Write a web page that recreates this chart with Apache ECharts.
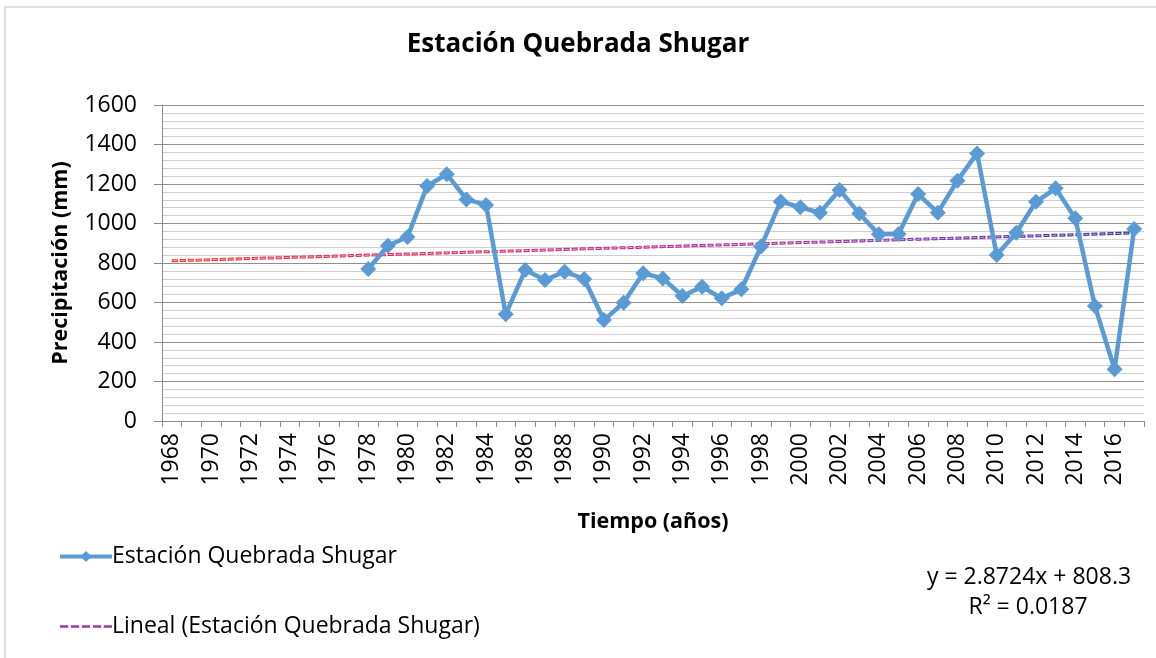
<!DOCTYPE html>
<html lang="es">
<head>
    <meta charset="UTF-8">
    <title>Estación Quebrada Shugar</title>
    <style>
        html, body { margin: 0; padding: 0; background: #fff; }
    </style>
</head>
<body>
<div id="main" style="width: 1156px;height: 658px"></div>
<script src="https://cdn.jsdelivr.net/npm/echarts@6/dist/echarts.min.js"></script>
<script>
    // años 1968 - 2017
    var years = [];
    for (var y = 1968; y <= 2017; y++) {
        years.push(String(y));
    }

    // precipitación anual (mm), sin datos antes de 1978
    var precip = [
        null, null, null, null, null, null, null, null, null, null,
        770, 887, 932, 1190, 1250, 1122, 1094, 540, 765, 714,
        756, 719, 511, 599, 748, 722, 633, 680, 621, 667,
        883, 1112, 1082, 1055, 1170, 1051, 945, 947, 1149, 1055,
        1217, 1355, 840, 953, 1110, 1178, 1026, 582, 262, 972
    ];

    // tendencia lineal: extremos
    var trendStart = 811;
    var trendEnd = 952;
    var trend = years.map(function (v, i) {
        if (i === 0) return trendStart;
        if (i === years.length - 1) return trendEnd;
        return null;
    });

    var font = "'Open Sans', 'Noto Sans', sans-serif";
    var trendColor = new echarts.graphic.LinearGradient(0, 0, 1, 0, [
        {offset: 0, color: '#ff2a2a'},
        {offset: 0.45, color: '#c4238a'},
        {offset: 0.75, color: '#8a2fa8'},
        {offset: 1, color: '#2c2a96'}
    ]);
    // icono de leyenda: línea discontinua
    var dashIcon = 'path://M0,0h6v2h-6z M8,0h6v2h-6z M16,0h6v2h-6z M24,0h6v2h-6z M32,0h6v2h-6z';

    var myChart = echarts.init(document.getElementById('main'));
    var option = {
        animation: false,
        textStyle: {fontFamily: font},
        title: {
            text: 'Estación Quebrada Shugar',
            left: 'center',
            top: 27,
            textStyle: {fontFamily: font, fontSize: 26, fontWeight: 'bold', color: '#000'}
        },
        legend: {
            orient: 'vertical',
            left: 53,
            top: 540,
            itemGap: 47,
            itemWidth: 52,
            itemHeight: 14,
            data: [
                {name: 'Estación Quebrada Shugar', lineStyle: {width: 4}},
                {name: 'Lineal (Estación Quebrada Shugar)', icon: dashIcon, itemStyle: {color: '#9a3aa6'}}
            ],
            textStyle: {fontFamily: font, fontSize: 23, color: '#000', padding: [0, 0, 0, -5]}
        },
        grid: {
            left: 162,
            right: 12,
            top: 105,
            bottom: 237
        },
        xAxis: {
            type: 'category',
            data: years,
            name: 'Tiempo (años)',
            nameLocation: 'middle',
            nameGap: 90,
            nameTextStyle: {fontFamily: font, fontSize: 21.5, fontWeight: 'bold', color: '#000'},
            axisLine: {lineStyle: {color: '#8c8c8c', width: 1}},
            axisTick: {show: true, interval: 0, length: 6, lineStyle: {color: '#8c8c8c'}},
            axisLabel: {
                interval: 1,
                rotate: 90,
                margin: 12,
                fontFamily: font,
                fontSize: 23,
                color: '#000'
            },
            splitLine: {show: false}
        },
        yAxis: {
            type: 'value',
            min: 0,
            max: 1600,
            interval: 200,
            name: 'Precipitación (mm)',
            nameLocation: 'middle',
            nameGap: 90,
            nameTextStyle: {fontFamily: font, fontSize: 21.5, fontWeight: 'bold', color: '#000'},
            axisLine: {show: true, lineStyle: {color: '#8c8c8c', width: 1}},
            axisTick: {show: true, length: 8, lineStyle: {color: '#8c8c8c'}},
            axisLabel: {
                margin: 25,
                fontFamily: font,
                fontSize: 23,
                color: '#000',
                formatter: function (v) { return String(v); }
            },
            splitLine: {show: true, lineStyle: {color: '#8f8f8f', width: 1}},
            minorTick: {show: false, splitNumber: 5},
            minorSplitLine: {show: true, lineStyle: {color: '#cfcfcf', width: 1}}
        },
        series: [
            {
                name: 'Lineal (Estación Quebrada Shugar)',
                type: 'line',
                data: trend,
                connectNulls: true,
                symbol: 'none',
                z: 2,
                lineStyle: {color: trendColor, width: 3, type: [6, 2]},
                itemStyle: {color: '#9a3aa6'}
            },
            {
                // centro claro de los trazos de la tendencia
                name: 'trendInner',
                type: 'line',
                data: trend,
                connectNulls: true,
                symbol: 'none',
                z: 3,
                silent: true,
                lineStyle: {color: 'rgba(255,255,255,0.65)', width: 1, type: [4, 4], dashOffset: -1}
            },
            {
                name: 'Estación Quebrada Shugar',
                type: 'line',
                data: precip,
                symbol: 'diamond',
                symbolSize: 16,
                showAllSymbol: true,
                z: 5,
                lineStyle: {color: '#5b9bd5', width: 4.5},
                itemStyle: {color: '#5b9bd5'}
            }
        ],
        graphic: [
            {
                type: 'rect',
                shape: {x: 5, y: 7, width: 1200, height: 700},
                style: {fill: 'none', stroke: '#bdbdbd', lineWidth: 1},
                silent: true,
                z: -1
            },
            {
                type: 'text',
                x: 1029,
                y: 577,
                style: {
                    text: 'y = 2.8724x + 808.3',
                    fontFamily: font, fontSize: 23, fill: '#000',
                    textAlign: 'center', textVerticalAlign: 'middle'
                }
            },
            {
                type: 'text',
                x: 1028,
                y: 607,
                style: {
                    text: 'R² = 0.0187',
                    fontFamily: font, fontSize: 23, fill: '#000',
                    textAlign: 'center', textVerticalAlign: 'middle'
                }
            }
        ]
    };
    myChart.setOption(option);
</script>
</body>
</html>
